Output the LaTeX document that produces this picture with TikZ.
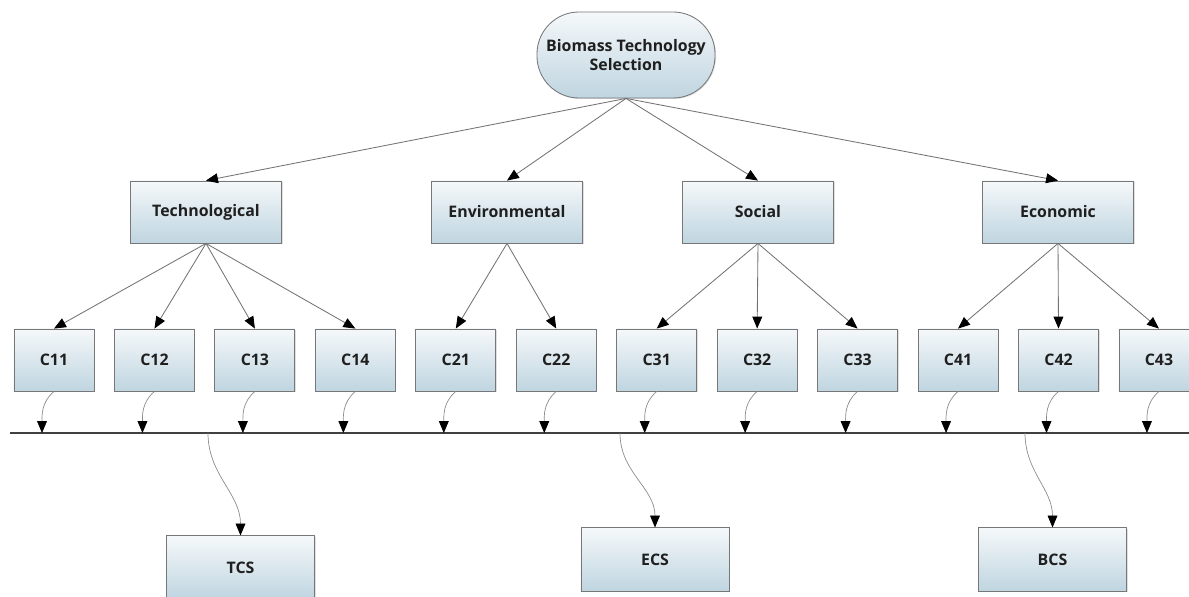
\documentclass[tikz,border=0pt]{standalone}
\usepackage{fontspec}
\setsansfont{Open Sans}
\usetikzlibrary{arrows.meta,shadows}
\definecolor{boxtop}{HTML}{F5F8FA}
\definecolor{boxbot}{HTML}{BFD5E0}
\definecolor{boxline}{HTML}{777777}
\colorlet{linkcol}{black!55}
\colorlet{flowcol}{black!45}

\begin{document}
\begin{tikzpicture}[x=0.025cm, y=0.025cm,
	    box/.style={draw=boxline, line width=0.6pt, top color=boxtop, bottom color=boxbot, inner sep=0pt,
	        drop shadow={opacity=0.25, shadow xshift=0.7pt, shadow yshift=-0.7pt},
	        text=black!88, font=\sffamily\bfseries\fontsize{11.3}{13}\selectfont, align=center},
	    goal/.style={box, minimum width=4.45cm, minimum height=2.15cm, rounded corners=1.05cm},
	    crit/.style={box, minimum width=3.78cm, minimum height=1.55cm},
	    sub/.style={box, minimum width=2cm, minimum height=1.55cm},
	    score/.style={box, minimum width=3.7cm, minimum height=1.58cm},
	    arr/.style={draw=linkcol, line width=0.6pt, -{Triangle[width=7pt,length=8.5pt,black]}},
	    flow/.style={draw=flowcol, line width=0.5pt, -{Triangle[width=7pt,length=8.5pt,black]}},
	    bar/.style={draw=black!75, line width=0.9pt}]
	    \useasboundingbox (0,0) rectangle (1189,-597);

		\node[goal] (root) at (626,-55) {Biomass Technology\\Selection}; % root node

		% criteria
		\node[crit] (tech) at (206,-212) {Technological};
		\node[crit] (env) at (507,-212) {Environmental};
		\node[crit] (soc) at (758,-212) {Social};
		\node[crit] (eco) at (1058,-212) {Economic};

		% sub-criteria
		\foreach \n [count=\i from 0] in {11,12,13,14,21,22,31,32,33,41,42,43}
			\node[sub] (c\n) at ({54+100.45*\i},-360) {C\n};

		% scores
		\node[score] (tcs) at (240.5,-567.5) {TCS};
		\node[score] (ecs) at (655,-559.5) {ECS};
		\node[score] (bcs) at (1052.5,-559.5) {BCS};

		\foreach \g in {tech,env,soc,eco}
			\draw[arr] (root.south) -- (\g.north);
		\foreach \n in {11,12,13,14}
			\draw[arr] (tech.south) -- (c\n.north);
		\foreach \n in {21,22}
			\draw[arr] (env.south) -- (c\n.north);
		\foreach \n in {31,32,33}
			\draw[arr] (soc.south) -- (c\n.north);
		\foreach \n in {41,42,43}
			\draw[arr] (eco.south) -- (c\n.north);

		% aggregation bar
		\coordinate (barL) at (10,-433);
		\coordinate (barR) at (1189,-433);
		\draw[bar] (barL) -- (barR);

		\foreach \n in {11,12,13,14,21,22,31,32,33,41,42,43} {
			\path (c\n.south |- barL) ++(-12,0) coordinate (d\n);
			\draw[flow] (c\n.south) to[out=-140,in=90] (d\n);
		}

		\coordinate (s1) at (208,-433);
		\coordinate (s2) at (620,-433);
		\coordinate (s3) at (1025,-433);
		\draw[flow] (s1) to[out=-90,in=90] (tcs.north);
		\draw[flow] (s2) to[out=-90,in=90] (ecs.north);
		\draw[flow] (s3) to[out=-90,in=90] (bcs.north); % end of scores

	  \end{tikzpicture}
\end{document}
